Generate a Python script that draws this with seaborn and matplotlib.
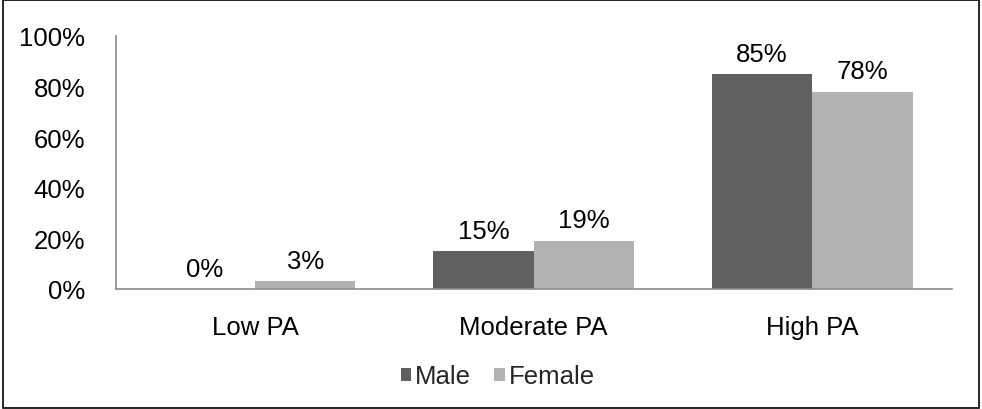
import pandas as pd
import matplotlib.pyplot as plt
import seaborn as sns
from matplotlib.patches import Rectangle
from matplotlib.ticker import PercentFormatter

levels = ["Low PA", "Moderate PA", "High PA"]
male = [0, 15, 85]
female = [3, 19, 78]

df = pd.DataFrame({
    "level": levels * 2,
    "sex": ["Male"] * 3 + ["Female"] * 3,
    "pct": male + female,
})

sns.set_style("white")
plt.rcParams['font.family'] = ['Liberation Sans', 'DejaVu Sans']
FS = 18.5

fig = plt.figure(figsize=(9.82, 4.1), dpi=100)
ax = fig.add_axes([0.118, 0.293, 0.851, 0.617])

sns.barplot(data=df, x="level", y="pct", hue="sex",
            palette={"Male": "#606060", "Female": "#b3b3b3"},
            width=0.72, saturation=1, linewidth=0, ax=ax, legend=True)

for c in ax.containers:
    ax.bar_label(c, labels=[f"{v:.0f}%" for v in c.datavalues],
                 padding=6, fontsize=FS, color="black")

ax.set_ylim(0, 100)
ax.set_yticks(range(0, 101, 20))
ax.yaxis.set_major_formatter(PercentFormatter(decimals=0))
ax.set_xlabel("")
ax.set_ylabel("")
ax.tick_params(axis="y", length=0, pad=22, labelsize=FS, labelcolor="black")
ax.tick_params(axis="x", length=0, pad=19, labelsize=FS, labelcolor="black")

sns.despine(ax=ax, top=True, right=True)
for s in ["left", "bottom"]:
    ax.spines[s].set_color("#8c8c8c")
    ax.spines[s].set_linewidth(1.2)

handles, labels = ax.get_legend_handles_labels()
ax.get_legend().remove()
fig.legend(handles, labels, loc="center", bbox_to_anchor=(0.507, 0.08), ncol=2,
           frameon=False, handlelength=0.4, handleheight=0.4,
           handletextpad=0.15, columnspacing=0.9, fontsize=FS)

fig.patches.append(Rectangle((0.003, 0.003), 0.994, 0.994, transform=fig.transFigure,
                             fill=False, edgecolor="black", linewidth=1.2))

fig.savefig("out.png", dpi=100)
